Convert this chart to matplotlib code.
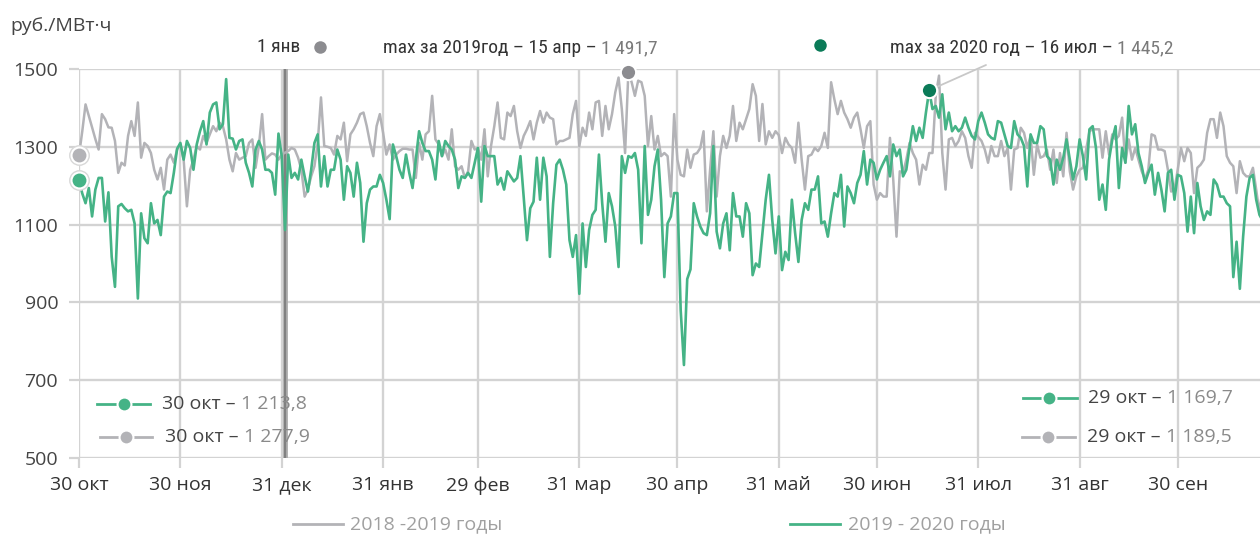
import matplotlib
matplotlib.use('Agg')
import matplotlib.pyplot as plt
from matplotlib import font_manager as fm
from matplotlib.lines import Line2D

W, H = 1260, 535

available = {f.name for f in fm.fontManager.ttflist}
def pick(*names):
    for n in names:
        if n in available:
            return n
    return 'DejaVu Sans'

MAIN = pick('Open Sans', 'Noto Sans', 'DejaVu Sans')
NARROW = pick('Liberation Sans Narrow', 'Roboto Condensed', 'Open Sans Condensed', 'Roboto', 'Noto Sans')

# ---------------- data ----------------
tick_days = [0, 31, 62, 93, 122, 153, 183, 214, 244, 275, 306, 336]
tick_labels = ['30 окт', '30 ноя', '31 дек', '31 янв', '29 фев', '31 мар',
               '30 апр', '31 май', '30 июн', '31 июл', '31 авг', '30 сен']
y_ticks = [500, 700, 900, 1100, 1300, 1500]

new_year_day = 63
max19_day, max19_val = 168, 1491.7
max20_day, max20_val = 260, 1445.2

prices_2019_2020 = [
    1214, 1180, 1155, 1194, 1121, 1190, 1220, 1220, 1108, 1183,
    1017, 940, 1147, 1153, 1142, 1134, 1138, 1103, 910, 1129,
    1065, 1052, 1155, 1103, 1112, 1073, 1172, 1185, 1181, 1233,
    1295, 1310, 1267, 1315, 1297, 1241, 1306, 1340, 1366, 1306,
    1388, 1409, 1414, 1345, 1358, 1474, 1323, 1321, 1293, 1315,
    1319, 1259, 1233, 1198, 1293, 1315, 1293, 1241, 1241, 1233,
    1177, 1334, 1276, 1086, 1280, 1220, 1233, 1216, 1267, 1224,
    1185, 1241, 1310, 1332, 1198, 1276, 1198, 1241, 1241, 1293,
    1267, 1164, 1250, 1233, 1172, 1259, 1207, 1056, 1155, 1190,
    1198, 1198, 1228, 1207, 1164, 1114, 1306, 1276, 1241, 1220,
    1280, 1233, 1194, 1267, 1340, 1310, 1289, 1289, 1267, 1216,
    1315, 1276, 1315, 1302, 1293, 1267, 1194, 1224, 1220, 1233,
    1220, 1259, 1297, 1159, 1302, 1276, 1276, 1276, 1203, 1220,
    1190, 1237, 1224, 1211, 1220, 1276, 1170, 1060, 1142, 1159,
    1272, 1164, 1272, 1224, 1017, 1155, 1254, 1267, 1241, 1203,
    1060, 1017, 1073, 922, 1103, 991, 1086, 1125, 1138, 1280,
    1155, 1056, 1181, 1147, 1095, 991, 1276, 1233, 1276, 1272,
    1284, 1241, 1052, 1302, 1125, 1164, 1250, 1293, 1164, 965,
    1103, 1121, 1181, 1181, 880, 739, 960, 985, 1155, 1121,
    1095, 1078, 1073, 1129, 1302, 1082, 1039, 1103, 1129, 1034,
    1181, 1121, 1121, 1069, 1155, 1129, 970, 1000, 991, 1078,
    1164, 1228, 1112, 1026, 1121, 983, 1030, 1009, 1164, 1078,
    1004, 1112, 1155, 1138, 1190, 1190, 1224, 1103, 1108, 1069,
    1129, 1181, 1172, 1228, 1095, 1198, 1181, 1155, 1207, 1228,
    1289, 1203, 1267, 1259, 1216, 1241, 1259, 1276, 1224, 1306,
    1276, 1293, 1224, 1241, 1300, 1353, 1315, 1349, 1323, 1388,
    1445.2, 1397, 1405, 1375, 1435, 1345, 1388, 1340, 1353, 1340,
    1349, 1375, 1349, 1328, 1319, 1366, 1388, 1362, 1332, 1323,
    1319, 1366, 1362, 1332, 1302, 1297, 1366, 1332, 1323, 1302,
    1198, 1332, 1310, 1310, 1353, 1345, 1276, 1267, 1203, 1267,
    1241, 1272, 1319, 1267, 1216, 1250, 1319, 1276, 1216, 1345,
    1353, 1297, 1164, 1203, 1138, 1267, 1319, 1353, 1194, 1297,
    1259, 1405, 1332, 1358, 1284, 1250, 1207, 1233, 1254, 1177,
    1233, 1190, 1134, 1233, 1241, 1164, 1228, 1224, 1181, 1082,
    1172, 1078, 1207, 1147, 1112, 1134, 1125, 1216, 1203, 1172,
    1172, 1155, 1147, 965, 1056, 935, 1069, 1172, 1220, 1228,
    1164, 1125, 1110, 1140, 1160, 1169.7,
]

prices_2018_2019 = [
    1277.9, 1340, 1409, 1380, 1350, 1320, 1293, 1384, 1371, 1350,
    1349, 1315, 1233, 1259, 1252, 1328, 1366, 1328, 1414, 1272,
    1310, 1302, 1284, 1241, 1216, 1246, 1190, 1267, 1280, 1259,
    1293, 1306, 1267, 1147, 1241, 1267, 1302, 1293, 1328, 1310,
    1332, 1353, 1340, 1362, 1353, 1319, 1267, 1237, 1284, 1267,
    1272, 1276, 1310, 1319, 1246, 1302, 1384, 1267, 1276, 1283,
    1280, 1267, 1280, 1285, 1289, 1297, 1293, 1272, 1241, 1172,
    1190, 1224, 1250, 1310, 1427, 1302, 1300, 1297, 1280, 1328,
    1319, 1362, 1263, 1332, 1345, 1362, 1384, 1388, 1353, 1310,
    1276, 1353, 1384, 1336, 1280, 1306, 1267, 1280, 1289, 1295,
    1295, 1293, 1293, 1220, 1310, 1267, 1332, 1340, 1431, 1319,
    1306, 1276, 1293, 1267, 1345, 1250, 1241, 1250, 1220, 1237,
    1315, 1293, 1297, 1267, 1345, 1224, 1302, 1353, 1414, 1323,
    1319, 1388, 1379, 1405, 1340, 1297, 1328, 1345, 1366, 1319,
    1362, 1392, 1362, 1388, 1375, 1371, 1306, 1315, 1315, 1319,
    1323, 1384, 1418, 1302, 1349, 1328, 1388, 1345, 1414, 1418,
    1328, 1405, 1345, 1384, 1440, 1478, 1397, 1284, 1491.7, 1466,
    1431, 1470, 1466, 1431, 1302, 1379, 1293, 1328, 1276, 1284,
    1276, 1172, 1384, 1267, 1228, 1224, 1293, 1246, 1280, 1284,
    1297, 1340, 1134, 1241, 1340, 1172, 1276, 1328, 1297, 1328,
    1405, 1315, 1362, 1345, 1371, 1397, 1461, 1431, 1315, 1410,
    1306, 1340, 1323, 1340, 1330, 1284, 1323, 1306, 1297, 1259,
    1362, 1267, 1190, 1276, 1280, 1297, 1289, 1302, 1336, 1297,
    1466, 1422, 1384, 1418, 1388, 1371, 1349, 1375, 1388, 1345,
    1297, 1353, 1366, 1203, 1164, 1181, 1172, 1172, 1323, 1216,
    1069, 1237, 1233, 1267, 1310, 1284, 1267, 1203, 1254, 1241,
    1284, 1284, 1431, 1483, 1284, 1190, 1319, 1323, 1302, 1315,
    1340, 1323, 1276, 1246, 1336, 1325, 1315, 1293, 1259, 1302,
    1276, 1276, 1315, 1276, 1297, 1190, 1293, 1297, 1349, 1336,
    1297, 1328, 1228, 1306, 1272, 1276, 1293, 1241, 1293, 1207,
    1284, 1224, 1336, 1237, 1190, 1224, 1241, 1246, 1293, 1340,
    1345, 1345, 1345, 1272, 1340, 1280, 1332, 1319, 1328, 1375,
    1259, 1319, 1267, 1297, 1267, 1237, 1216, 1241, 1332, 1328,
    1293, 1293, 1289, 1241, 1185, 1190, 1241, 1297, 1263, 1297,
    1284, 1181, 1246, 1254, 1267, 1336, 1371, 1371, 1323, 1388,
    1353, 1276, 1259, 1250, 1181, 1263, 1233, 1224, 1224, 1246,
    1190, 1129, 1200, 1235, 1230, 1189.5,
]

days = list(range(len(prices_2019_2020)))
days_prev = list(range(len(prices_2018_2019)))

GREEN = '#45b386'
GREY = '#b3b3b7'
DARK_GREEN = '#0b7b58'
DARK_GREY = '#8c8c90'
GRID = '#d3d3d3'

# ---------------- figure ----------------
fig = plt.figure(figsize=(W / 100, H / 100), dpi=100)
x0, x1 = 79, 79 + 365 * 3.27
y_top, y_bot = 69, 458
ax = fig.add_axes([x0 / W, 1 - y_bot / H, (x1 - x0) / W, (y_bot - y_top) / H])
ax.set_xlim(0, 365)
ax.set_ylim(500, 1500)

for s in ax.spines.values():
    s.set_visible(False)
ax.set_xticks(tick_days)
ax.set_xticklabels(tick_labels, family=MAIN, fontsize=14, color='#333333')
ax.set_yticks(y_ticks)
ax.set_yticklabels([str(v) for v in y_ticks], family=MAIN, fontsize=14, color='#444444')
ax.tick_params(axis='both', length=7, width=1.6, color=GRID)
ax.tick_params(axis='x', pad=6)
ax.tick_params(axis='y', pad=8)
ax.grid(True, color=GRID, lw=1.7, zorder=0)
ax.set_axisbelow(True)

ax.axvline(new_year_day, color='#a8a8a8', lw=3.4, zorder=2)
ax.axvline(new_year_day, color='#7d7d7d', lw=1.3, zorder=2)

ax.plot(days_prev, prices_2018_2019, color=GREY, lw=1.8, zorder=3,
        solid_joinstyle='round')
ax.plot(days, prices_2019_2020, color=GREEN, lw=1.9, zorder=4,
        solid_joinstyle='round')

# start markers
for val, col in [(prices_2018_2019[0], GREY), (prices_2019_2020[0], GREEN)]:
    ax.plot(0, val, 'o', ms=14, mfc='white', mec='#d8d8d8', mew=1, clip_on=False, zorder=6)
    ax.plot(0, val, 'o', ms=10, mfc=col, mec='white', mew=0, clip_on=False, zorder=7)

# max markers
ax.plot(max19_day, max19_val, 'o', ms=11, mfc=DARK_GREY, mec='white', mew=1.5,
        clip_on=False, zorder=7)
ax.plot(max20_day, max20_val, 'o', ms=11, mfc=DARK_GREEN, mec='white', mew=1.5,
        clip_on=False, zorder=7)
ax.annotate('', xy=(max20_day, max20_val), xytext=(986 / W, 1 - 65 / H),
            textcoords='figure fraction',
            arrowprops=dict(arrowstyle='-', color='#c8c8c8', lw=1.3,
                            shrinkA=0, shrinkB=5), zorder=5)

renderer = fig.canvas.get_renderer()

def fx(px):
    return px / W

def fy(py):
    return 1 - py / H

def two_part(xp, yp, a, b, size, family, ca='#444444', cb='#8a8a8a'):
    t = fig.text(fx(xp), fy(yp), a, fontsize=size, family=family, color=ca,
                 ha='left', va='center')
    bb = t.get_window_extent(renderer)
    fig.text(bb.x1 / W, fy(yp), b, fontsize=size, family=family, color=cb,
             ha='left', va='center')

def fig_line(xa, xb, yp, col, lw=2.0):
    fig.add_artist(Line2D([fx(xa), fx(xb)], [fy(yp), fy(yp)], color=col, lw=lw,
                          transform=fig.transFigure))

def fig_dot(xp, yp, col, ms=9, mec='white', mew=0):
    fig.add_artist(Line2D([fx(xp)], [fy(yp)], marker='o', ms=ms, mfc=col, mec=mec,
                          mew=mew, lw=0, transform=fig.transFigure))

# unit label
fig.text(fx(10), fy(26), 'руб./МВт·ч', fontsize=14, family=MAIN, color='#444444',
         ha='left', va='center')

# top annotations
fig.text(fx(300), fy(47), '1 янв', fontsize=14, family=NARROW, color='#333333',
         ha='right', va='center')
fig_dot(320, 47, DARK_GREY, ms=9)
two_part(383, 48, 'max за 2019год – 15 апр – ', '1 491,7', 14, NARROW,
         ca='#333333', cb='#7a7a7a')
fig_dot(820, 45, DARK_GREEN, ms=9)
two_part(890, 48, 'max за 2020 год – 16 июл – ', '1 445,2', 14, NARROW,
         ca='#333333', cb='#7a7a7a')

# in-plot legends
for (la, lb, dot_x, yp, col, tx, label_a, label_b) in [
        (97, 150, 124, 404, GREEN, 162, '30 окт – ', '1 213,8'),
        (100, 152, 126, 437, GREY, 165, '30 окт – ', '1 277,9'),
        (1023, 1077, 1049, 398, GREEN, 1088, '29 окт – ', '1 169,7'),
        (1022, 1075, 1048, 437, GREY, 1087, '29 окт – ', '1 189,5')]:
    fig_line(la, lb, yp, col, lw=2.0)
    fig_dot(dot_x, yp, col, ms=10, mec='white', mew=1.5)
    two_part(tx, yp, label_a, label_b, 14, MAIN, ca='#444444', cb='#8a8a8a')

# bottom legend
fig_line(293, 343, 524, GREY, lw=2.0)
fig.text(fx(350), fy(524), '2018 -2019 годы', fontsize=14, family=MAIN,
         color='#a0a0a0', ha='left', va='center')
fig_line(790, 840, 524, GREEN, lw=2.0)
fig.text(fx(848), fy(524), '2019 - 2020 годы', fontsize=14, family=MAIN,
         color='#a0a0a0', ha='left', va='center')

fig.savefig('out.png', dpi=100)
